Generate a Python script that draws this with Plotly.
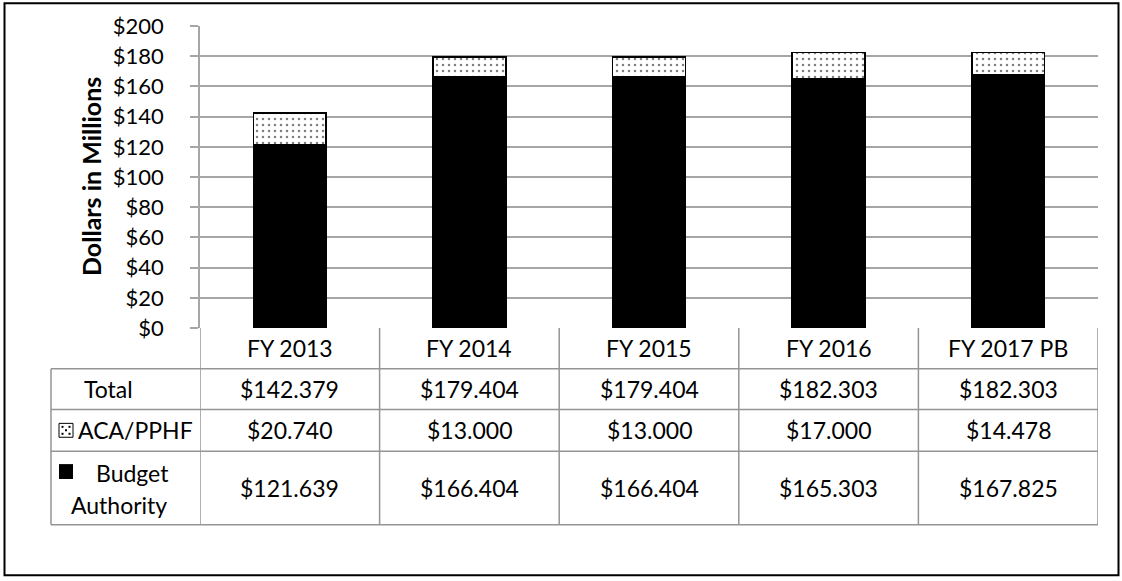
import plotly.graph_objects as go

categories = ["FY 2013", "FY 2014", "FY 2015", "FY 2016", "FY 2017 PB"]
aca_pphf = [20.740, 13.000, 13.000, 17.000, 14.478]
budget_authority = [121.639, 166.404, 166.404, 165.303, 167.825]
total = [142.379, 179.404, 179.404, 182.303, 182.303]
y_ticks = [0, 20, 40, 60, 80, 100, 120, 140, 160, 180, 200]

W, H = 1122, 581
PL, PR, PT, PB = 200, 1098, 24, 328
FONT = "Lato"
GRID = "#a6a6a6"
TLINE = "#959595"


def px(x):
    return (x - PL) / (PR - PL)


def py(y):
    return (PB - y) / (PB - PT)


fig = go.Figure()
fig.add_trace(go.Bar(
    x=categories, y=budget_authority, name="Budget Authority", width=0.405,
    marker=dict(color="black", line=dict(color="black", width=1.5)),
))
fig.add_trace(go.Bar(
    x=categories, y=aca_pphf, name="ACA/PPHF", width=0.405,
    marker=dict(color="white", line=dict(color="black", width=1.5),
                pattern=dict(shape=".", fgcolor="black", bgcolor="white", size=6, solidity=0.14)),
))

row_edges = [328, 369, 410, 452, 526]
label_left = 51
shapes = []
for yy in row_edges[1:]:
    shapes.append(dict(type="line", xref="paper", yref="paper", x0=px(label_left), x1=1, y0=py(yy), y1=py(yy),
                       line=dict(color=TLINE, width=1.5)))
for i in range(len(categories) + 1):
    shapes.append(dict(type="line", xref="x", yref="paper", x0=i - 0.5, x1=i - 0.5, y0=py(328), y1=py(526),
                       line=dict(color=TLINE, width=1.5)))
shapes.append(dict(type="line", xref="paper", yref="paper", x0=px(label_left), x1=px(label_left),
                   y0=py(369), y1=py(526), line=dict(color=TLINE, width=1.5)))
# legend keys
shapes.append(dict(type="rect", xref="paper", yref="paper", x0=px(59), x1=px(73), y0=py(424), y1=py(438),
                   line=dict(color="black", width=1), fillcolor="white"))
for dx, dy in [(62.5, 427.5), (69.5, 427.5), (66, 431), (62.5, 434.5), (69.5, 434.5)]:
    shapes.append(dict(type="rect", xref="paper", yref="paper", x0=px(dx - 1), x1=px(dx + 1),
                       y0=py(dy - 1), y1=py(dy + 1), line=dict(width=0), fillcolor="black"))
shapes.append(dict(type="rect", xref="paper", yref="paper", x0=px(59), x1=px(73), y0=py(465), y1=py(480),
                   line=dict(width=0), fillcolor="black"))
# outer border
shapes.append(dict(type="rect", xref="paper", yref="paper", x0=px(4.5), x1=px(1118.5), y0=py(1), y1=py(577),
                   line=dict(color="black", width=2), fillcolor="rgba(0,0,0,0)", layer="below"))

annotations = []
tfont = dict(family=FONT, size=23, color="black")


def cell(x, y, text, xref="x", xanchor="center"):
    annotations.append(dict(x=x, y=py(y), xref=xref, yref="paper", text=text, showarrow=False,
                            xanchor=xanchor, yanchor="middle", font=tfont))


for i, c in enumerate(categories):
    cell(c, 348.5, c)
    cell(c, 389.5, f"${total[i]:.3f}")
    cell(c, 431, f"${aca_pphf[i]:.3f}")
    cell(c, 489, f"${budget_authority[i]:.3f}")

cell(px(108), 389.5, "Total", xref="paper")
cell(px(76), 431, "ACA/PPHF", xref="paper", xanchor="left")
cell(px(132), 474, "Budget", xref="paper")
cell(px(119), 506, "Authority", xref="paper")

annotations.append(dict(x=px(91), y=0.5, xref="paper", yref="paper", text="<b>Dollars in Millions</b>",
                        textangle=-90, showarrow=False, xanchor="center", yanchor="middle",
                        font=dict(family=FONT, size=25, color="black")))

fig.update_layout(
    width=W, height=H, autosize=False,
    margin=dict(l=PL, r=W - PR, t=PT, b=H - PB, pad=0),
    barmode="stack", showlegend=False,
    paper_bgcolor="white", plot_bgcolor="white",
    shapes=shapes, annotations=annotations,
    font=dict(family=FONT, size=23, color="black"),
)
fig.update_xaxes(range=[-0.5, len(categories) - 0.5], showticklabels=False, showgrid=False,
                 zeroline=False, showline=False, ticks="")
fig.update_yaxes(range=[0, 200], tickvals=y_ticks, ticktext=[f"${v}" for v in y_ticks],
                 showgrid=True, gridcolor=GRID, gridwidth=1.5, zeroline=False,
                 showline=True, linecolor=GRID, linewidth=1.5,
                 ticks="outside", ticklen=8, tickcolor=GRID, tickwidth=1.5,
                 ticklabelstandoff=22, tickfont=dict(family=FONT, size=22, color="black"))

fig.write_html("out.html", config={"displayModeBar": False},
               post_script="document.body.style.margin='0';")
